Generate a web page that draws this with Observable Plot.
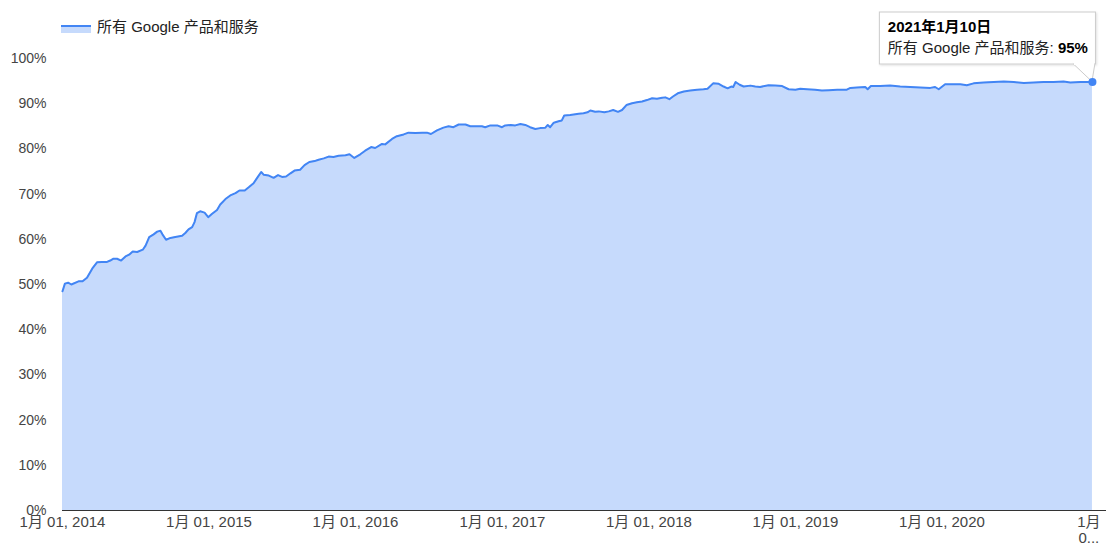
<!DOCTYPE html>
<html><head><meta charset="utf-8">
<script src="https://cdn.jsdelivr.net/npm/d3@7"></script>
<script src="https://cdn.jsdelivr.net/npm/@observablehq/plot@0.6"></script>
<style>
body{margin:0;background:#fff;font-family:"Liberation Sans",Arial,"Noto Sans CJK SC",sans-serif;}
#wrap{position:relative;width:1106px;height:549px;}
#wrap svg{position:absolute;left:0;top:0;}
#sw{position:absolute;left:61px;top:25px;width:30px;height:8px;box-sizing:border-box;border-top:2px solid #4285f4;background:rgba(66,133,244,0.3);}
#legtext{position:absolute;left:97px;top:18px;line-height:18px;font-size:15px;color:#222;white-space:nowrap;}
</style></head>
<body>
<div id="wrap"><div id="sw"></div><div id="legtext"></div></div>
<script>
const seriesName = "所有 Google 产品和服务";

const dates = [
"2014-01-01","2014-01-07","2014-01-15","2014-01-23","2014-02-10","2014-02-20","2014-03-03","2014-03-16","2014-03-28","2014-04-09",
"2014-04-22","2014-04-30","2014-05-08","2014-05-17","2014-05-27","2014-06-07","2014-06-16","2014-06-25","2014-07-06","2014-07-20",
"2014-07-27","2014-08-05","2014-08-16","2014-08-25","2014-09-02","2014-09-07","2014-09-16","2014-09-27","2014-10-09","2014-10-26",
"2014-11-03","2014-11-11","2014-11-20","2014-11-26","2014-12-02","2014-12-10","2014-12-21","2014-12-30",
"2015-01-08","2015-01-21","2015-01-29","2015-02-11","2015-02-23","2015-03-08","2015-03-18","2015-03-31","2015-04-10","2015-04-22",
"2015-05-01","2015-05-11","2015-05-17","2015-05-30","2015-06-11","2015-06-22","2015-07-02","2015-07-12","2015-07-23","2015-08-02",
"2015-08-16","2015-08-27","2015-09-08","2015-09-21","2015-10-01","2015-10-14","2015-10-26","2015-11-07","2015-11-20","2015-12-07",
"2015-12-17","2015-12-29",
"2016-01-13","2016-01-25","2016-02-09","2016-02-19","2016-03-07","2016-03-15","2016-04-01","2016-04-13","2016-04-30","2016-05-12",
"2016-05-29","2016-06-15","2016-06-27","2016-07-07","2016-07-22","2016-08-07","2016-08-20","2016-09-01","2016-09-14","2016-10-01",
"2016-10-13","2016-10-30","2016-11-11","2016-11-19","2016-12-02","2016-12-19","2016-12-31",
"2017-01-08","2017-01-22","2017-02-02","2017-02-15","2017-02-27","2017-03-11","2017-03-24","2017-04-05","2017-04-18","2017-04-24",
"2017-04-30","2017-05-09","2017-05-21","2017-05-29","2017-06-04","2017-06-19","2017-07-10","2017-07-22","2017-08-01","2017-08-08",
"2017-08-20","2017-08-29","2017-09-12","2017-09-23","2017-10-04","2017-10-16","2017-10-26","2017-11-06","2017-11-20","2017-12-02",
"2017-12-15","2017-12-27",
"2018-01-09","2018-01-21","2018-02-03","2018-02-11","2018-02-21","2018-03-02","2018-03-14","2018-03-29","2018-04-14","2018-05-01",
"2018-05-17","2018-05-27","2018-06-10","2018-06-24","2018-07-06","2018-07-16","2018-07-25","2018-07-30","2018-08-05","2018-08-15",
"2018-08-25","2018-09-11","2018-09-23","2018-10-05","2018-10-26","2018-11-12","2018-11-29","2018-12-15",
"2019-01-01","2019-01-13","2019-01-30","2019-02-19","2019-03-08","2019-03-25","2019-04-15","2019-05-09","2019-05-18","2019-06-03",
"2019-06-24","2019-06-30","2019-07-08","2019-07-31","2019-08-25","2019-09-19","2019-10-14","2019-11-08","2019-12-03","2019-12-15",
"2019-12-24",
"2020-01-09","2020-01-30","2020-02-16","2020-03-03","2020-03-20","2020-04-14","2020-05-09","2020-06-03","2020-06-28","2020-07-23",
"2020-08-17","2020-09-10","2020-10-05","2020-10-30","2020-11-16","2020-12-11","2021-01-10"];

const values = [
48.5,50.2,50.4,50.0,50.7,50.7,51.5,53.5,54.9,55.0,
55.0,55.3,55.7,55.7,55.3,56.2,56.6,57.3,57.2,57.7,
58.6,60.5,61.1,61.7,61.9,61.1,59.9,60.3,60.5,60.8,
61.4,62.2,62.7,63.8,65.8,66.2,65.9,64.9,
65.6,66.5,67.7,68.9,69.7,70.2,70.8,70.8,71.5,72.4,
73.6,74.9,74.3,74.1,73.6,74.2,73.8,73.9,74.6,75.2,
75.4,76.4,77.1,77.3,77.6,77.9,78.3,78.2,78.5,78.6,
78.8,78.0,
78.8,79.6,80.4,80.2,81.1,81.0,82.2,82.8,83.2,83.6,
83.5,83.6,83.6,83.3,84.1,84.7,85.0,84.8,85.4,85.4,
85.0,85.0,85.0,84.8,85.2,85.2,84.8,
85.2,85.3,85.2,85.5,85.3,84.8,84.4,84.6,84.7,85.3,
84.8,85.8,86.1,86.3,87.4,87.5,87.8,87.9,88.1,88.5,
88.2,88.3,88.1,88.3,88.6,88.2,88.6,89.7,90.1,90.3,
90.5,90.8,
91.2,91.1,91.3,91.4,91.0,91.6,92.3,92.7,92.9,93.1,
93.2,93.3,94.5,94.4,93.8,93.4,93.8,93.7,94.8,94.2,
93.8,94.0,93.8,93.7,94.1,94.0,93.9,93.2,
93.1,93.3,93.2,93.1,92.9,93.0,93.1,93.1,93.5,93.6,
93.7,93.2,93.9,93.9,94.0,93.8,93.7,93.6,93.5,93.7,
93.2,
94.3,94.3,94.3,94.1,94.5,94.7,94.8,94.9,94.8,94.6,
94.7,94.8,94.8,94.9,94.7,94.8,94.8];

const yTicks = [0,10,20,30,40,50,60,70,80,90,100];
const xTickDates = ["2014-01-01","2015-01-01","2016-01-01","2017-01-01","2018-01-01","2019-01-01","2020-01-01","2021-01-01"];
const xTickLabels = ["1月 01, 2014","1月 01, 2015","1月 01, 2016","1月 01, 2017","1月 01, 2018","1月 01, 2019","1月 01, 2020","1月\n0..."];
const xDomain = ["2014-01-01","2021-02-14"];

(function () {
const data = dates.map((d, i) => ({date: new Date(d), value: values[i]}));
const last = data[data.length - 1];
const tickMap = new Map(xTickDates.map((d, i) => [+new Date(d), xTickLabels[i]]));

const blue = "#4285f4";
const font = '"Liberation Sans", Arial, "Noto Sans CJK SC", sans-serif';

document.getElementById("legtext").textContent = seriesName;

const chart = Plot.plot({
  width: 1106, height: 549,
  marginTop: 58, marginBottom: 39, marginLeft: 62, marginRight: 0,
  style: {fontFamily: font, fontSize: "14px", color: "#444", background: "transparent", overflow: "visible"},
  x: {type: "utc", domain: xDomain.map(d => new Date(d))},
  y: {domain: [0, 100]},
  marks: [
    Plot.areaY(data, {x: "date", y: "value", fill: blue, fillOpacity: 0.3}),
    Plot.lineY(data, {x: "date", y: "value", stroke: blue, strokeWidth: 2}),
    Plot.ruleY([0], {stroke: "#333", strokeWidth: 1}),
    Plot.axisY({ticks: yTicks, tickFormat: d => d + "%", tickSize: 0, tickPadding: 16, label: null}),
    Plot.axisX({ticks: xTickDates.map(d => new Date(d)), tickFormat: d => tickMap.get(+d), tickSize: 0, tickPadding: 5, fontSize: 15, lineHeight: 1.07, label: null}),
    Plot.dot([last], {x: "date", y: "value", r: 4, fill: blue})
  ]
});
document.getElementById("wrap").appendChild(chart);

// tooltip anchored to the last point via the plot's scales
const svg = d3.select(chart);
const X = chart.scale("x").apply(last.date);
const Y = chart.scale("y").apply(last.value);
const tip = svg.append("g").attr("font-family", font).attr("font-size", 15).attr("text-anchor", "start");
const defs = svg.append("defs");
defs.append("filter").attr("id", "tipShadow").attr("x", "-10%").attr("y", "-10%").attr("width", "130%").attr("height", "140%")
  .append("feDropShadow").attr("dx", 1).attr("dy", 1).attr("stdDeviation", 1).attr("flood-color", "#000").attr("flood-opacity", 0.12);
const boxG = tip.append("g");
const dt = last.date;
const title = `${dt.getUTCFullYear()}年${dt.getUTCMonth() + 1}月${dt.getUTCDate()}日`;
const t1 = tip.append("text").attr("font-weight", "bold").attr("fill", "#000").text(title);
const t2 = tip.append("text").attr("fill", "#222");
t2.append("tspan").text(seriesName + ": ");
t2.append("tspan").attr("font-weight", "bold").attr("fill", "#000").text(d3.format(".0f")(last.value) + "%");
const w = Math.max(t1.node().getComputedTextLength(), t2.node().getComputedTextLength()) + 17;
const bRight = X + 4, bLeft = bRight - w, bTop = Y - 70, bBottom = Y - 18;
boxG.append("rect").attr("x", bLeft + 0.5).attr("y", bTop + 0.5).attr("width", w - 1).attr("height", bBottom - bTop)
  .attr("fill", "#fff").attr("stroke", "#ccc").attr("filter", "url(#tipShadow)");
boxG.append("path").attr("d", `M${X - 19},${bBottom} L${X},${Y} L${X + 3},${bBottom}`).attr("fill", "#fff").attr("stroke", "#ccc");
boxG.append("path").attr("d", `M${X - 18},${bBottom + 0.5} L${X + 2},${bBottom + 0.5}`).attr("stroke", "#fff").attr("stroke-width", 2);
t1.attr("x", bLeft + 9).attr("y", bTop + 20);
t2.attr("x", bLeft + 9).attr("y", bTop + 41);
svg.select('g[aria-label="dot"]').raise();
})();
</script>
</body></html>
